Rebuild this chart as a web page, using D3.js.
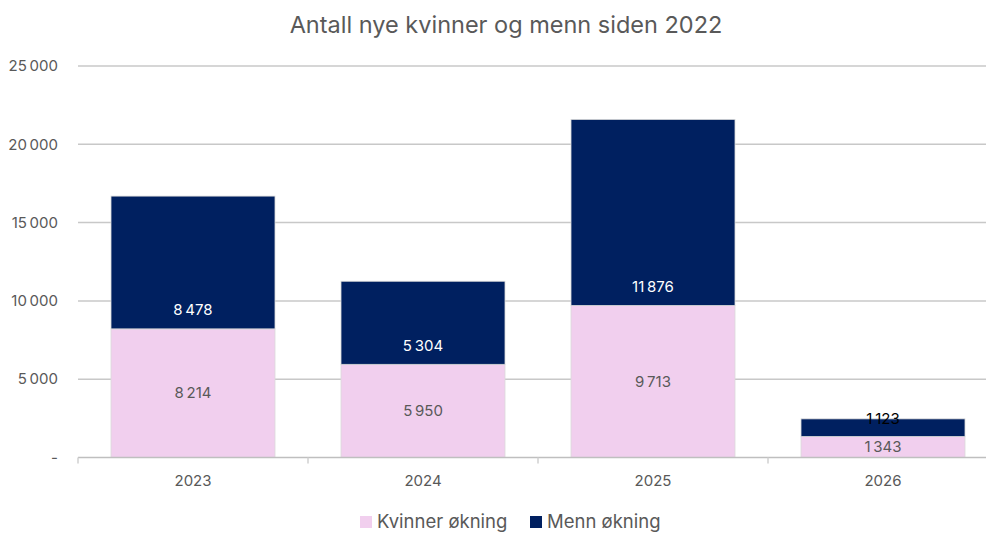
<!DOCTYPE html>
<html>
<head>
<meta charset="utf-8">
<script src="https://cdn.jsdelivr.net/npm/d3@7"></script>
<style>
  body { margin: 0; background: #fff; }
  text { font-family: Inter, "Open Sans", sans-serif; }
</style>
</head>
<body>
<div id="chart"></div>
<script>
// data
const years = ["2023", "2024", "2025", "2026"];
const kvinner = [8214, 5950, 9713, 1343];
const menn = [8478, 5304, 11876, 1123];
const yTicks = [0, 5000, 10000, 15000, 20000, 25000];
const seriesNames = ["Kvinner økning", "Menn økning"];
const colors = ["#f1cfee", "#002060"];

const width = 986, height = 533;
const margin = {top: 66, right: -12, bottom: 75.5, left: 78};

const svg = d3.select("#chart")
    .append("svg")
    .attr("width", width)
    .attr("height", height);

const x = d3.scaleBand()
    .domain(years)
    .range([margin.left, width - margin.right])
    .paddingInner(0.287)
    .paddingOuter(0.1435);

const y = d3.scaleLinear()
    .domain([0, 25000])
    .range([height - margin.bottom, margin.top]);

const fmt = v => v === 0 ? "-" : d3.format(",")(v).replace(/,/g, "\u2009");

// gridlines
svg.append("g")
    .selectAll("line")
    .data(yTicks.slice(1))
    .join("line")
    .attr("x1", margin.left)
    .attr("x2", width)
    .attr("y1", d => y(d))
    .attr("y2", d => y(d))
    .attr("stroke", "#c8c8c8")
    .attr("stroke-width", 1.5);

// y tick labels
svg.append("g")
    .selectAll("text")
    .data(yTicks)
    .join("text")
    .attr("x", 58)
    .attr("y", d => y(d))
    .attr("dy", "0.35em")
    .attr("text-anchor", "end")
    .attr("fill", "#595959")
    .style("font-size", "15px")
    .text(fmt);

// stacked data
const rows = years.map((yr, i) => ({year: yr, k: kvinner[i], m: menn[i]}));
const stack = d3.stack().keys(["k", "m"])(rows);

const layer = svg.append("g")
    .selectAll("g")
    .data(stack)
    .join("g")
    .attr("fill", (d, i) => colors[i]);

layer.selectAll("rect")
    .data(d => d)
    .join("rect")
    .attr("x", d => x(d.data.year))
    .attr("width", x.bandwidth())
    .attr("y", d => y(d[1]))
    .attr("height", d => y(d[0]) - y(d[1]))
    .attr("stroke", "#d9d9d9")
    .attr("stroke-width", 0.8);

// x axis line and ticks
svg.append("line")
    .attr("x1", margin.left)
    .attr("x2", width)
    .attr("y1", y(0))
    .attr("y2", y(0))
    .attr("stroke", "#bfbfbf")
    .attr("stroke-width", 1.5);

const edges = years.map((yr, i) => margin.left + i * x.step());
svg.append("g")
    .selectAll("line")
    .data(edges)
    .join("line")
    .attr("x1", d => d)
    .attr("x2", d => d)
    .attr("y1", y(0))
    .attr("y2", y(0) + 6)
    .attr("stroke", "#d0d0d0")
    .attr("stroke-width", 1.5);

// x labels
svg.append("g")
    .selectAll("text")
    .data(years)
    .join("text")
    .attr("x", d => x(d) + x.bandwidth() / 2)
    .attr("y", 486)
    .attr("text-anchor", "middle")
    .attr("fill", "#595959")
    .style("font-size", "15px")
    .text(d => d);

// value labels: women centred, men just above the base
svg.append("g")
    .selectAll("text")
    .data(stack[0])
    .join("text")
    .attr("x", d => x(d.data.year) + x.bandwidth() / 2)
    .attr("y", d => (y(d[0]) + y(d[1])) / 2)
    .attr("dy", "0.35em")
    .attr("text-anchor", "middle")
    .attr("fill", "#595959")
    .style("font-size", "15px")
    .text(d => fmt(d[1] - d[0]));

svg.append("g")
    .selectAll("text")
    .data(stack[1])
    .join("text")
    .attr("x", d => x(d.data.year) + x.bandwidth() / 2)
    .attr("y", d => {
        const h = y(d[0]) - y(d[1]);
        return h < 30 ? y(d[1]) : y(d[0]) - 19;
    })
    .attr("dy", "0.35em")
    .attr("text-anchor", "middle")
    .attr("fill", d => (y(d[0]) - y(d[1])) < 30 ? "#000" : "#ffffff")
    .style("font-size", "15px")
    .text(d => fmt(d[1] - d[0]));

// title
svg.append("text")
    .attr("x", 506)
    .attr("y", 25)
    .attr("dy", "0.35em")
    .attr("text-anchor", "middle")
    .attr("fill", "#595959")
    .style("font-size", "23.5px")
    .text("Antall nye kvinner og menn siden 2022");

// legend
const legend = svg.append("g")
    .selectAll("g")
    .data(seriesNames)
    .join("g")
    .attr("transform", (d, i) => `translate(${[360, 530][i]}, 522)`);

legend.append("rect")
    .attr("x", 0)
    .attr("y", -6)
    .attr("width", 12)
    .attr("height", 12)
    .attr("fill", (d, i) => colors[i]);

legend.append("text")
    .attr("x", 17)
    .attr("dy", "0.35em")
    .attr("fill", "#595959")
    .style("font-size", "18.5px")
    .text(d => d);
</script>
</body>
</html>
